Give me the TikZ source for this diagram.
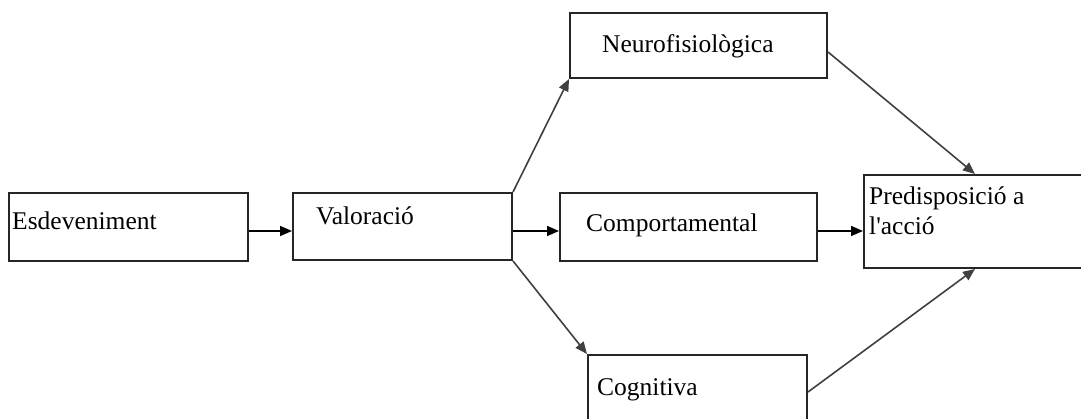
\documentclass[tikz,border=0pt]{standalone}
\usepackage{fontspec}
\setmainfont{Liberation Serif}[Ligatures=TeXOff]
\usetikzlibrary{arrows.meta}
\begin{document}
\begin{tikzpicture}[x=1pt,y=-1pt,
  box/.style={draw=black!85, line width=2pt, rectangle, minimum width=#1, inner sep=0pt},
  lbl/.style={anchor=base west, inner sep=0pt, font=\fontsize{25.5}{30}\selectfont},
  arr/.style={line width=1.6pt, -{Triangle[length=12pt,width=10pt]}},
  darr/.style={line width=1.6pt, draw=black!75, -{Triangle[length=12pt,width=10pt]}}]
\useasboundingbox (0,0) rectangle (1081,419);
\clip (0,0) rectangle (1081,419);
\fill[white] (0,0) rectangle (1081,419);
% boxes
\node[box=239pt, minimum height=68pt] (esd) at (128.5,227) {};
\node[box=219pt, minimum height=67pt] (val) at (402.5,226.5) {};
\node[box=257pt, minimum height=65pt] (neu) at (698.5,45.5) {};
\node[box=257pt, minimum height=68pt] (com) at (688.5,227) {};
\node[box=236pt, minimum height=93pt] (pre) at (982,221.5) {};
\node[box=219pt, minimum height=85pt] (cog) at (697.5,397.5) {};
% labels
\node[lbl] (tesd) at (12,230) {Esdeveniment};
\node[lbl] (tval) at (316,225) {Valoració};
\node[lbl] (tneu) at (602,53) {Neurofisiològica};
\node[lbl] (tcom) at (586,232) {Comportamental};
\node[lbl] (tpre1) at (869,205) {Predisposició a};
\node[lbl] (tpre2) at (869,235) {l'acció};
\node[lbl] (tcog) at (597,395) {Cognitiva};
% connectors
\draw[arr] (esd.east |- 0,231) -- (val.west |- 0,231);
\draw[arr] (val.east |- 0,231) -- (com.west |- 0,231);
\draw[arr] (com.east |- 0,231) -- (pre.west |- 0,231);
\draw[darr] (val.north east) -- (neu.south west);
\draw[darr] (val.south east) -- (cog.north west);
\draw[darr] (neu.east |- 0,52) -- (pre.north -| 975,0);
\draw[darr] (cog.east |- 0,392) -- (pre.south -| 975,0);
\end{tikzpicture}
\end{document}
